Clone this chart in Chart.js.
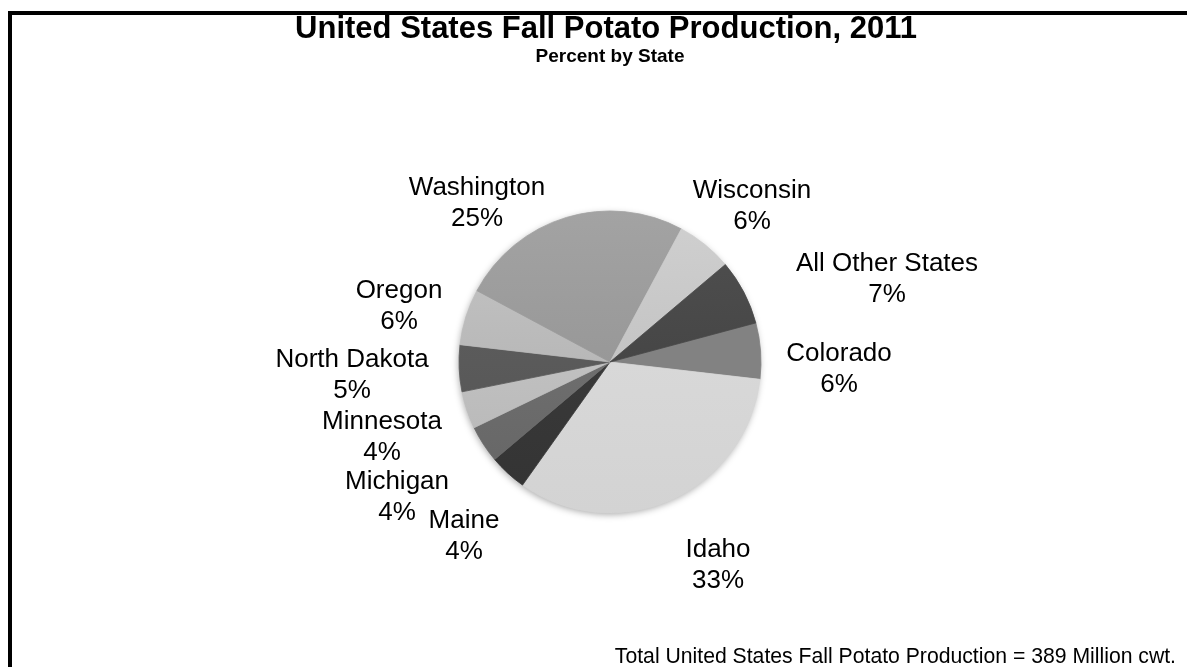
<!DOCTYPE html>
<html>
<head>
<meta charset="utf-8">
<script src="https://cdn.jsdelivr.net/npm/chart.js@4/dist/chart.umd.min.js"></script>
<style>
  html, body { margin: 0; padding: 0; background: #ffffff; }
  #wrap { position: relative; width: 1187px; height: 667px; overflow: hidden; }
  #frame { position: absolute; left: 8px; top: 11px; width: 1400px; height: 800px;
           border-top: 4px solid #000; border-left: 4px solid #000; box-sizing: border-box; }
  canvas { position: absolute; left: 0; top: 0; }
</style>
</head>
<body>
<div id="wrap">
  <div id="frame"></div>
  <canvas id="chart" width="1187" height="667"></canvas>
</div>
<script>
// Fall potato production share by state, 2011 (percent)
const states = ['Colorado', 'Idaho', 'Maine', 'Michigan', 'Minnesota',
                'North Dakota', 'Oregon', 'Washington', 'Wisconsin', 'All Other States'];
const percents = [6, 33, 4, 4, 4, 5, 6, 25, 6, 7];
const titleText = 'United States Fall Potato Production, 2011';
const subtitleText = 'Percent by State';
const footnoteText = 'Total United States Fall Potato Production = 389 Million cwt.';

// grey level of each slice (0-255), shaded lighter toward the top
const greyLevels = [0x82, 0xd8, 0x39, 0x6e, 0xc0, 0x5a, 0xb8, 0x98, 0xc4, 0x46];
const shadeSpread = [12, 5, 6, 10, 12, 8, 14, 11, 12, 10];

// label block centres, relative to the pie centre
const labelOffsets = [
  [229, 7], [108, 203], [-146, 174], [-213, 135], [-228, 75],
  [-258, 13], [-211, -56], [-133, -159], [142, -156], [277, -83]
];

function grey(v) {
  v = Math.max(0, Math.min(255, Math.round(v)));
  return 'rgb(' + v + ',' + v + ',' + v + ')';
}

function sliceFill(ctx) {
  const chart = ctx.chart;
  const meta = chart.getDatasetMeta(0);
  const arc = meta.data[0];
  if (!arc || !arc.outerRadius) return grey(greyLevels[ctx.dataIndex]);
  const cy = arc.y, r = arc.outerRadius;
  const g = chart.ctx.createLinearGradient(0, cy - r, 0, cy + r);
  const base = greyLevels[ctx.dataIndex], s = shadeSpread[ctx.dataIndex];
  g.addColorStop(0, grey(base + s));
  g.addColorStop(1, grey(base - s));
  return g;
}

const FONT = '"Liberation Sans", Arial, Helvetica, sans-serif';

const pieShadow = {
  id: 'pieShadow',
  beforeDatasetsDraw(chart) {
    const arc = chart.getDatasetMeta(0).data[0];
    if (!arc) return;
    const c = chart.ctx;
    c.save();
    c.shadowColor = 'rgba(0,0,0,0.35)';
    c.shadowBlur = 7;
    c.shadowOffsetX = -1;
    c.shadowOffsetY = 2;
    c.fillStyle = '#cccccc';
    c.beginPath();
    c.arc(arc.x, arc.y, arc.outerRadius - 0.5, 0, Math.PI * 2);
    c.fill();
    c.restore();
  }
};

const textLayer = {
  id: 'textLayer',
  afterDraw(chart) {
    const c = chart.ctx;
    const arc = chart.getDatasetMeta(0).data[0];
    c.save();
    c.fillStyle = '#000';
    c.textAlign = 'center';
    c.textBaseline = 'middle';
    c.font = 'bold 31px ' + FONT;
    c.fillText(titleText, 606, 29);
    c.font = 'bold 19px ' + FONT;
    c.fillText(subtitleText, 610, 57);

    c.font = '26px ' + FONT;
    states.forEach((name, i) => {
      const x = arc.x + labelOffsets[i][0];
      const y = arc.y + labelOffsets[i][1];
      c.fillText(name, x, y - 15.5);
      c.fillText(percents[i] + '%', x, y + 15.5);
    });

    c.textAlign = 'right';
    c.font = '21.2px ' + FONT;
    c.fillText(footnoteText, 1176, 657);
    c.restore();
  }
};

new Chart(document.getElementById('chart'), {
  type: 'pie',
  data: {
    labels: states,
    datasets: [{
      data: percents,
      backgroundColor: sliceFill,
      borderColor: sliceFill,
      borderWidth: 0.8,
      radius: 151
    }]
  },
  options: {
    responsive: false,
    animation: false,
    rotation: 75,
    layout: { padding: { left: 300, right: 267, top: 180, bottom: 123 } },
    plugins: {
      legend: { display: false },
      title: { display: false },
      tooltip: { enabled: false }
    }
  },
  plugins: [pieShadow, textLayer]
});
</script>
</body>
</html>
